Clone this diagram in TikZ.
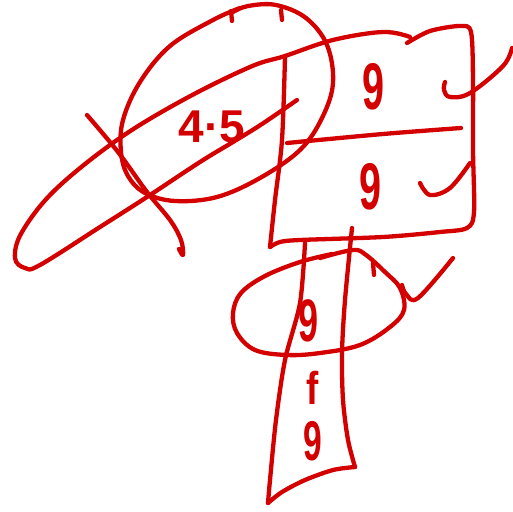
\documentclass[tikz,border=0pt]{standalone}
\usepackage{fontspec}
\setmainfont{Liberation Sans}
\definecolor{ink}{RGB}{212,0,0}
\begin{document}
\begin{tikzpicture}[x=1pt,y=-1pt,
  stroke/.style={draw=ink,line width=4.3pt,line cap=round,line join=round},
  hand/.style={text=ink,inner sep=0pt,font=\bfseries}]
\useasboundingbox (0,0) rectangle (513,511);
% elongated loop
\draw[stroke] plot[smooth,tension=0.6] coordinates {(410,37) (383,32) (333,40) (285,56) (250,67) (183,100) (117,140) (55,190) (22,232) (15,258) (25,268) (40,265) (100,227) (147,197) (200,162) (233,142) (262,124) (297,100)};
% circle
\draw[stroke] plot[smooth,tension=0.6] coordinates {(240,8) (213,20) (170,46) (140,82) (123,120) (121,152) (128,176) (145,193) (175,201) (217,197) (260,178) (300,150) (322,118) (333,83) (327,45) (306,18) (276,5) (248,6) (233,12)};
\draw[stroke] (231,11) -- (232,21);
\draw[stroke] (281,10) -- (282,20);
% cross stroke
\draw[stroke] plot[smooth,tension=0.6] coordinates {(87,115) (118,152) (147,192) (170,220) (181,240) (183,255) (179,249)};
% rectangle
\draw[stroke] plot[smooth,tension=0.5] coordinates {(407,43) (430,31) (460,26) (471,32) (473,80) (473,150) (474,212) (467,228) (440,232) (383,237) (300,240) (280,242) (270,247)};
\draw[stroke] plot[smooth,tension=0.5] coordinates {(270,247) (275,200) (282,140) (285,57)};
% divider
\draw[stroke] plot[smooth,tension=0.5] coordinates {(287,143) (383,134) (461,128)};
% checks
\draw[stroke] plot[smooth,tension=0.6] coordinates {(445,82) (444,90) (450,97) (470,93) (503,66) (512,48)};
\draw[stroke] plot[smooth,tension=0.6] coordinates {(420,183) (430,195) (450,188) (470,163)};
% column
\draw[stroke] plot[smooth,tension=0.5] coordinates {(305,243) (300,303) (285,360) (276,420) (270,480) (268,503)};
\draw[stroke] plot[smooth,tension=0.5] coordinates {(268,503) (282,492) (305,480) (333,470) (355,467)};
\draw[stroke] plot[smooth,tension=0.5] coordinates {(355,467) (348,440) (343,400) (342,353) (345,300) (352,228)};
% ellipse
\draw[stroke] plot[smooth,tension=0.6] coordinates {(320,258) (353,250) (366,255) (385,272) (400,288) (404,310) (390,327) (360,345) (320,353) (287,355) (255,350) (237,333) (233,313) (241,293) (265,276) (300,262) (332,254)};
\draw[stroke] (373,263) -- (374,275);
\draw[stroke] plot[smooth,tension=0.6] coordinates {(402,285) (406,294) (418,298) (453,258)};
% texts
\node[hand] (t45) at (212,127) {\fontsize{46}{46}\selectfont 4·5};
\node[hand] (t9a) at (374,87) {\scalebox{0.6}[1]{\fontsize{66}{66}\selectfont 9}};
\node[hand] (t9b) at (371,187) {\scalebox{0.6}[1]{\fontsize{66}{66}\selectfont 9}};
\node[hand] (t9c) at (309,321) {\scalebox{0.6}[1]{\fontsize{60}{60}\selectfont 9}};
\node[hand] (tf) at (313,388) {\scalebox{0.8}[1]{\fontsize{46}{46}\selectfont f}};
\node[hand] (t9d) at (313,441) {\scalebox{0.6}[1]{\fontsize{56}{56}\selectfont 9}};
\end{tikzpicture}
\end{document}
